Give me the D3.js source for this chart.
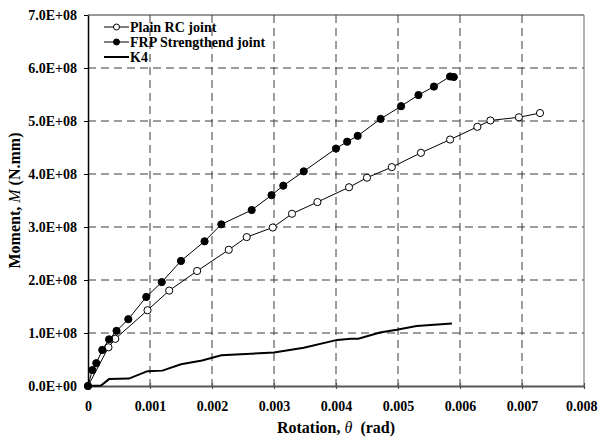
<!DOCTYPE html>
<html>
<head>
<meta charset="utf-8">
<title>Moment-Rotation</title>
<script src="https://d3js.org/d3.v7.min.js"></script>
<style>
    body { margin: 0; background: #fff; }
    text { font-family: "Liberation Serif", "Times New Roman", serif; font-weight: bold; fill: #000; }
</style>
</head>
<body>
<script>
    // rotation (rad) and moment (N.mm)
    const plainTheta = [0, 0.00033, 0.00044, 0.00096, 0.00131, 0.00176, 0.00227, 0.00256, 0.00298, 0.00329, 0.0037, 0.00421, 0.0045, 0.0049, 0.00537, 0.00584, 0.00628, 0.00649, 0.00695, 0.00729];
    const plainMoment = [0, 0.73e8, 0.89e8, 1.43e8, 1.80e8, 2.17e8, 2.57e8, 2.81e8, 2.99e8, 3.25e8, 3.47e8, 3.75e8, 3.93e8, 4.13e8, 4.40e8, 4.65e8, 4.89e8, 5.01e8, 5.07e8, 5.15e8];

    const frpTheta = [0, 0.00007, 0.000134, 0.00023, 0.00034, 0.00046, 0.00065, 0.00094, 0.00119, 0.0015, 0.00188, 0.00215, 0.00264, 0.00296, 0.00315, 0.00348, 0.0040, 0.00418, 0.00435, 0.00472, 0.00505, 0.00533, 0.00558, 0.00584, 0.0059];
    const frpMoment = [0, 0.30e8, 0.43e8, 0.68e8, 0.88e8, 1.04e8, 1.26e8, 1.68e8, 1.96e8, 2.36e8, 2.73e8, 3.05e8, 3.32e8, 3.60e8, 3.78e8, 4.05e8, 4.48e8, 4.61e8, 4.72e8, 5.04e8, 5.28e8, 5.49e8, 5.65e8, 5.84e8, 5.83e8];

    const k4Theta = [0, 0.00021, 0.00034, 0.00066, 0.00096, 0.0012, 0.0015, 0.00184, 0.00215, 0.003, 0.00348, 0.00402, 0.00424, 0.00436, 0.00471, 0.00498, 0.0053, 0.00587];
    const k4Moment = [0, 0.01e8, 0.13e8, 0.14e8, 0.28e8, 0.29e8, 0.41e8, 0.48e8, 0.58e8, 0.63e8, 0.72e8, 0.87e8, 0.89e8, 0.89e8, 1.01e8, 1.06e8, 1.13e8, 1.18e8];

    const xTicks = [0, 0.001, 0.002, 0.003, 0.004, 0.005, 0.006, 0.007, 0.008];
    const yTicks = [0, 1e8, 2e8, 3e8, 4e8, 5e8, 6e8, 7e8];

    const seriesNames = ["Plain RC joint", "FRP Strengthend joint", "K4"];

    const width = 598, height = 443;
    const margin = { top: 15, right: 14, bottom: 57, left: 88 };

    const svg = d3.select("body").append("svg")
        .attr("width", width)
        .attr("height", height);

    const x = d3.scaleLinear().domain([0, 0.008]).range([margin.left, width - margin.right]);
    const y = d3.scaleLinear().domain([0, 7e8]).range([height - margin.bottom, margin.top]);

    // dashed grid
    const grid = svg.append("g")
        .attr("stroke", "#3a3a3a")
        .attr("stroke-width", 1)
        .attr("stroke-dasharray", "8,5");
    grid.selectAll("line.h")
        .data(yTicks.filter(function(d) { return d > 0 && d < 7e8; }))
        .join("line")
        .attr("x1", x(0)).attr("x2", x(0.008))
        .attr("y1", function(d) { return y(d); })
        .attr("y2", function(d) { return y(d); });
    grid.selectAll("line.v")
        .data(xTicks.filter(function(d) { return d > 0 && d < 0.008; }))
        .join("line")
        .attr("y1", y(7e8)).attr("y2", y(0))
        .attr("x1", function(d) { return x(d); })
        .attr("x2", function(d) { return x(d); });

    // frame: top and right
    svg.append("line")
        .attr("x1", x(0)).attr("x2", x(0.008))
        .attr("y1", y(7e8)).attr("y2", y(7e8))
        .attr("stroke", "#333");
    svg.append("line")
        .attr("x1", x(0.008)).attr("x2", x(0.008))
        .attr("y1", y(7e8)).attr("y2", y(0))
        .attr("stroke", "#666");

    // axes
    const xAxis = svg.append("g")
        .attr("transform", "translate(0," + y(0) + ")")
        .call(d3.axisBottom(x).tickValues(xTicks).tickSizeInner(3).tickSizeOuter(0)
            .tickFormat(function(d) { return d === 0 ? "0" : d.toFixed(3); }));
    xAxis.select(".domain").attr("stroke", "#555").attr("stroke-width", 2);
    xAxis.selectAll(".tick line").attr("stroke", "#555").attr("y1", -3).attr("stroke-width", 1.2);
    xAxis.selectAll("text").attr("y", 25).attr("dy", null)
        .style("font-size", "14px").style("font-family", "Liberation Serif").style("font-weight", "bold");
    // last label sits at the window edge; keep it inside
    xAxis.selectAll(".tick").filter(function(d) { return d === 0.008; }).select("text")
        .attr("text-anchor", "end").attr("x", 13);

    const yAxis = svg.append("g")
        .attr("transform", "translate(" + x(0) + ",0)")
        .call(d3.axisLeft(y).tickValues(yTicks).tickSizeInner(4).tickSizeOuter(0).tickPadding(7)
            .tickFormat(function(d) { return d === 0 ? "0.0E+00" : (d / 1e8).toFixed(1) + "E+08"; }));
    yAxis.select(".domain").attr("stroke", "#000").attr("stroke-width", 1.5);
    yAxis.selectAll(".tick line").attr("stroke", "#000");
    yAxis.selectAll("text")
        .style("font-size", "14px").style("font-family", "Liberation Serif").style("font-weight", "bold");

    // axis titles
    const xt = svg.append("text")
        .attr("x", (x(0) + x(0.008)) / 2)
        .attr("y", 433)
        .attr("text-anchor", "middle")
        .style("font-size", "16px")
        .attr("xml:space", "preserve");
    xt.append("tspan").text("Rotation, ");
    xt.append("tspan").text("θ").style("font-style", "italic").style("font-weight", "normal");
    xt.append("tspan").text("  (rad)");

    const yt = svg.append("text")
        .attr("transform", "translate(20," + (y(3.5e8)) + ") rotate(-90)")
        .attr("text-anchor", "middle")
        .style("font-size", "16px")
        .attr("xml:space", "preserve");
    yt.append("tspan").text("Moment, ");
    yt.append("tspan").text("M").style("font-style", "italic").style("font-weight", "normal");
    yt.append("tspan").text(" (N.mm)");

    // series
    function pts(xs, ys) { return xs.map(function(d, i) { return [d, ys[i]]; }); }
    const line = d3.line().x(function(d) { return x(d[0]); }).y(function(d) { return y(d[1]); });

    const k4 = pts(k4Theta, k4Moment);
    svg.append("path").datum(k4).attr("d", line)
        .attr("fill", "none").attr("stroke", "#000").attr("stroke-width", 2);

    const plain = pts(plainTheta, plainMoment);
    svg.append("path").datum(plain).attr("d", line)
        .attr("fill", "none").attr("stroke", "#000").attr("stroke-width", 1);

    const frp = pts(frpTheta, frpMoment);
    svg.append("path").datum(frp).attr("d", line)
        .attr("fill", "none").attr("stroke", "#000").attr("stroke-width", 1);

    svg.append("g").selectAll("circle").data(plain).join("circle")
        .attr("cx", function(d) { return x(d[0]); })
        .attr("cy", function(d) { return y(d[1]); })
        .attr("r", 3.6).attr("fill", "#fff").attr("stroke", "#000").attr("stroke-width", 1);

    svg.append("g").selectAll("circle").data(frp).join("circle")
        .attr("cx", function(d) { return x(d[0]); })
        .attr("cy", function(d) { return y(d[1]); })
        .attr("r", 3.6).attr("fill", "#000").attr("stroke", "#000").attr("stroke-width", 1);

    // legend
    const legend = svg.append("g").attr("transform", "translate(104,27)");
    seriesNames.forEach(function(name, i) {
        const g = legend.append("g").attr("transform", "translate(0," + (i * 15) + ")");
        g.append("line").attr("x1", 0).attr("x2", 25).attr("y1", 0).attr("y2", 0)
            .attr("stroke", "#000").attr("stroke-width", i === 2 ? 2 : 1);
        if (i < 2) {
            g.append("circle").attr("cx", 12.5).attr("cy", 0).attr("r", 3)
                .attr("fill", i === 0 ? "#fff" : "#000").attr("stroke", "#000");
        }
        g.append("text").attr("x", 26).attr("y", 4.5).text(name).style("font-size", "14px");
    });
</script>
</body>
</html>
